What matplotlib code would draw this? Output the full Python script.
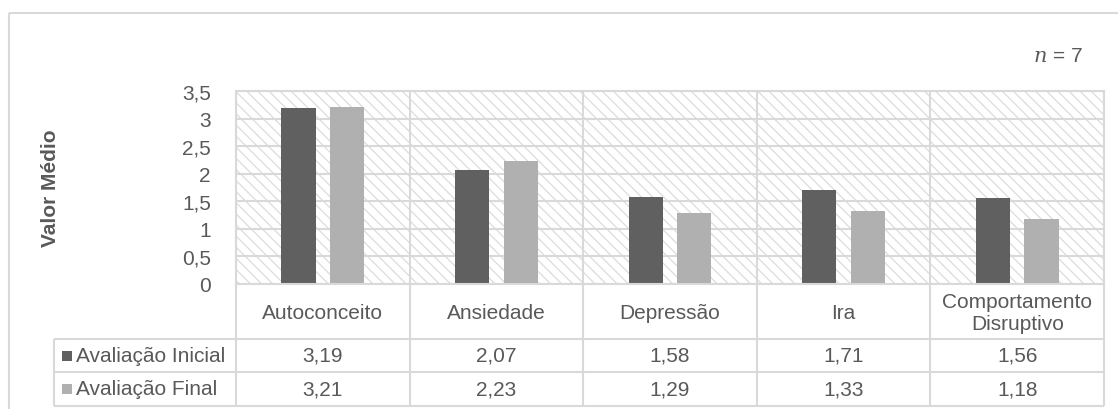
import matplotlib.pyplot as plt
import numpy as np
from matplotlib.patches import Rectangle
from matplotlib.transforms import blended_transform_factory

# Data
categories = ['Autoconceito', 'Ansiedade', 'Depressão', 'Ira', 'Comportamento\nDisruptivo']
series = ['Avaliação Inicial', 'Avaliação Final']
inicial = [3.19, 2.07, 1.58, 1.71, 1.56]
final = [3.21, 2.23, 1.29, 1.33, 1.18]
yticks = [0, 0.5, 1, 1.5, 2, 2.5, 3, 3.5]

TEXT = '#595959'
GRID = '#d9d9d9'
DARK = '#606060'
LIGHT = '#b0b0b0'
FS = 15

plt.rcParams['font.family'] = ['Liberation Sans', 'DejaVu Sans']
plt.rcParams['mathtext.fontset'] = 'dejavuserif'
plt.rcParams['hatch.linewidth'] = 0.9
plt.rcParams['hatch.color'] = '#dcdcdc'

W, H = 1118, 410
fig = plt.figure(figsize=(W / 100, H / 100), dpi=100)

# plot area (pixels)
x0, x1, y0, y1 = 236, 1104, 92, 285
ax = fig.add_axes([x0 / W, 1 - y1 / H, (x1 - x0) / W, (y1 - y0) / H])

x = np.arange(len(categories)) + 0.5
bw, off = 0.196, 0.14
ax.bar(x - off, inicial, bw, color=DARK, zorder=2)
ax.bar(x + off, final, bw, color=LIGHT, zorder=2)

ax.set_xlim(0, len(categories))
ax.set_ylim(0, 3.5)
ax.add_patch(Rectangle((0, 0), 1, 1, transform=ax.transAxes, facecolor='white',
                       edgecolor='#dcdcdc', hatch='\\\\\\', lw=0, zorder=0))
ax.set_yticks(yticks)
ax.set_yticklabels([f'{v:g}'.replace('.', ',') for v in yticks])
ax.tick_params(axis='y', length=0, pad=18, labelsize=FS, labelcolor=TEXT)
ax.set_xticks(np.arange(len(categories) + 1))
ax.set_xticklabels([])
ax.tick_params(axis='x', length=0)
ax.grid(True, color=GRID, lw=1.5)
ax.set_axisbelow(True)
for s in ax.spines.values():
    s.set_color(GRID)
    s.set_linewidth(1.5)

# overlay in pixel coordinates for the data table, border and labels
ov = fig.add_axes([0, 0, 1, 1])
ov.set_xlim(0, W)
ov.set_ylim(H, 0)
ov.axis('off')
trans = blended_transform_factory(ax.transData, ov.transData)

ov.add_patch(Rectangle((8.5, 13.5), W, H, fill=False, ec=GRID, lw=1.5))

lkw = dict(color=GRID, lw=1.5, solid_capstyle='butt')
hdr, r1, r2, r3 = 285, 340, 373, 407
tab_left = 54
for yy in (r1, r2, r3):
    ov.plot([tab_left, x1], [yy, yy], **lkw)
ov.plot([tab_left, tab_left], [r1, r3], **lkw)
ov.plot([x0, x0], [hdr, r3], **lkw)
for i in range(1, len(categories) + 1):
    ov.plot([i, i], [hdr, r3], transform=trans, **lkw)

for xi, cat in zip(x, categories):
    ov.text(xi, (hdr + r1) / 2 + 1.5, cat, transform=trans, ha='center', va='center',
            fontsize=FS, color=TEXT, linespacing=1.2)

for (top, bot), name, vals, col in zip([(r1, r2), (r2, r3)], series,
                                       [inicial, final], [DARK, LIGHT]):
    yc = (top + bot) / 2
    ov.add_patch(Rectangle((62, yc - 5), 10, 10, color=col, lw=0))
    ov.text(76, yc, name, ha='left', va='center', fontsize=FS, color=TEXT)
    for xi, v in zip(x, vals):
        ov.text(xi, yc, f'{v:.2f}'.replace('.', ','), transform=trans,
                ha='center', va='center', fontsize=FS, color=TEXT)

ov.text(50, (y0 + y1) / 2, 'Valor Médio', rotation=90, ha='center', va='center',
        fontsize=FS, fontweight='bold', color=TEXT)
ov.text(1083, 56, r'$n$ = 7', ha='right', va='center', fontsize=15, color=TEXT)

fig.savefig('out.png', dpi=100)
